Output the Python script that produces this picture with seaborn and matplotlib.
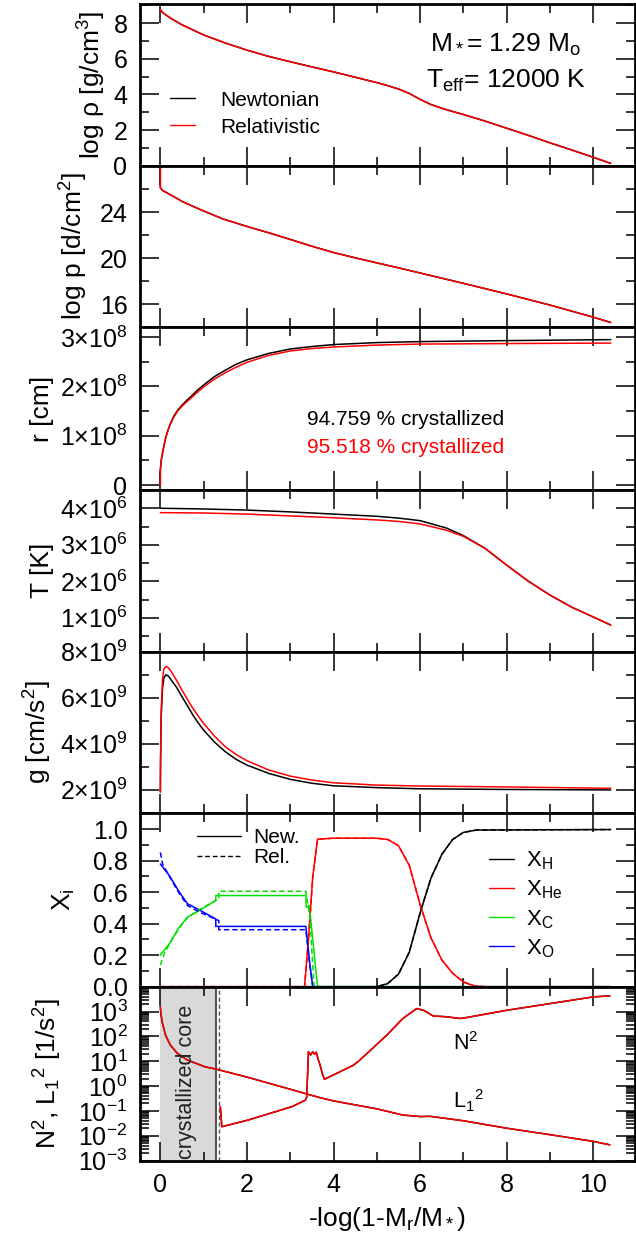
import numpy as np
import matplotlib
matplotlib.use("Agg")
import matplotlib.pyplot as plt
import seaborn as sns
from matplotlib.lines import Line2D
from matplotlib.ticker import (MultipleLocator, FixedLocator, FuncFormatter,
                               LogLocator, NullFormatter)

# ---------------- data ----------------
# panel 1: log density
x_rho = [0, 0.05, 0.1, 0.25, 0.5, 1, 1.5, 2, 2.5, 3, 3.5, 4, 4.5, 5, 5.25, 5.5,
         5.75, 6, 6.25, 6.5, 6.75, 7, 7.5, 8, 8.5, 9, 9.5, 10, 10.4]
logrho_new = [8.75, 8.6, 8.5, 8.25, 7.9, 7.33, 6.88, 6.48, 6.13, 5.83, 5.54,
              5.26, 4.96, 4.66, 4.49, 4.3, 4.05, 3.72, 3.43, 3.22, 3.04, 2.87,
              2.5, 2.1, 1.7, 1.28, 0.88, 0.47, 0.13]
logrho_rel = list(logrho_new)

# panel 2: log pressure
x_p = [0, 0, 0.05, 0.21, 0.52, 0.98, 1.44, 2.0, 2.5, 3.0, 3.5, 4.0, 4.5, 5.0,
       5.5, 6, 7, 8, 9, 10, 10.4]
logp_new = [29.0, 26.14, 25.9, 25.57, 24.91, 24.14, 23.43, 22.77, 22.22, 21.64,
            21.05, 20.5, 20.04, 19.6, 19.17, 18.72, 17.82, 16.9, 15.93, 14.88,
            14.42]
logp_rel = list(logp_new)

# panel 3: radius [cm]
x_r = [0, 0, 0.02, 0.05, 0.08, 0.12, 0.17, 0.22, 0.3, 0.4, 0.5, 0.6, 0.7, 0.85,
       1.0, 1.25, 1.5, 1.75, 2, 2.5, 3, 3.5, 4, 5, 6, 8, 10.4]
r_new = [0, 0.30e8, 0.5e8, 0.65e8, 0.78e8, 0.95e8, 1.1e8, 1.22e8, 1.38e8,
         1.52e8, 1.62e8, 1.71e8, 1.79e8, 1.92e8, 2.03e8, 2.2e8, 2.33e8, 2.45e8,
         2.54e8, 2.67e8, 2.76e8, 2.81e8, 2.85e8, 2.89e8, 2.91e8, 2.93e8, 2.95e8]
r_rel = [0, 0.30e8, 0.5e8, 0.65e8, 0.78e8, 0.94e8, 1.09e8, 1.21e8, 1.36e8,
         1.5e8, 1.6e8, 1.68e8, 1.76e8, 1.88e8, 1.99e8, 2.15e8, 2.28e8, 2.39e8,
         2.49e8, 2.63e8, 2.72e8, 2.77e8, 2.80e8, 2.84e8, 2.86e8, 2.87e8, 2.88e8]

# panel 4: temperature [K]
x_T = [0, 1, 2, 3, 4, 5, 5.5, 6, 6.6, 7.0, 7.5, 8.0, 8.5, 9.0, 9.5, 10.0, 10.4]
T_new = [4.0e6, 3.98e6, 3.95e6, 3.9e6, 3.84e6, 3.78e6, 3.73e6, 3.66e6, 3.46e6,
         3.25e6, 2.9e6, 2.44e6, 2.0e6, 1.62e6, 1.29e6, 1.02e6, 0.8e6]
T_rel = [3.88e6, 3.87e6, 3.84e6, 3.79e6, 3.74e6, 3.68e6, 3.64e6, 3.57e6, 3.4e6,
         3.23e6, 2.9e6, 2.44e6, 2.0e6, 1.62e6, 1.29e6, 1.02e6, 0.8e6]

# panel 5: gravity [cm/s^2]
x_g = [0, 0.005, 0.02, 0.05, 0.08, 0.13, 0.19, 0.25, 0.375, 0.5, 0.625, 0.75,
       0.875, 1, 1.25, 1.5, 1.75, 2, 2.5, 3, 3.5, 4, 5, 6, 8, 10.4]
g_new = [1.9e9, 3.2e9, 5.2e9, 6.4e9, 6.85e9, 7.0e9, 6.93e9, 6.77e9, 6.45e9,
         6.04e9, 5.65e9, 5.25e9, 4.9e9, 4.59e9, 4.07e9, 3.65e9, 3.32e9, 3.07e9,
         2.71e9, 2.45e9, 2.28e9, 2.17e9, 2.09e9, 2.04e9, 2.01e9, 1.99e9]
g_rel = [1.9e9, 3.3e9, 5.5e9, 6.8e9, 7.25e9, 7.36e9, 7.29e9, 7.14e9, 6.75e9,
         6.33e9, 5.93e9, 5.54e9, 5.2e9, 4.88e9, 4.33e9, 3.87e9, 3.53e9, 3.26e9,
         2.86e9, 2.59e9, 2.42e9, 2.3e9, 2.2e9, 2.16e9, 2.12e9, 2.06e9]

# panel 6: chemical abundances
x_O_new = [0, 0.21, 0.44, 0.63, 0.9, 1.28, 1.28, 3.36, 3.45, 3.52, 10.4]
XO_new = [0.779, 0.705, 0.60, 0.526, 0.488, 0.43, 0.383, 0.383, 0.15, 0.0, 0.0]
x_O_rel = [0, 0.05, 0.21, 0.44, 0.63, 0.9, 1.35, 1.35, 3.36, 3.45, 3.52, 10.4]
XO_rel = [0.853, 0.78, 0.70, 0.59, 0.515, 0.474, 0.42, 0.362, 0.362, 0.14, 0.0, 0.0]
x_C_new = [0, 0.21, 0.44, 0.63, 0.9, 1.28, 1.28, 3.36, 3.37, 3.44, 3.52, 3.63, 10.4]
XC_new = [0.2, 0.274, 0.379, 0.442, 0.484, 0.547, 0.579, 0.579, 0.505, 0.516,
          0.3, 0.0, 0.0]
x_C_rel = [0, 0.09, 0.21, 0.44, 0.63, 0.9, 1.35, 1.35, 3.36, 3.45, 3.55, 10.4]
XC_rel = [0.137, 0.21, 0.27, 0.375, 0.44, 0.49, 0.558, 0.606, 0.606, 0.45, 0.0, 0.0]
x_He = [0, 3.33, 3.42, 3.52, 3.63, 4.0, 5.0, 5.25, 5.5, 5.75, 6.0, 6.25, 6.5,
        6.75, 7.0, 7.25, 7.5, 10.4]
XHe_new = [0, 0, 0.3, 0.7, 0.937, 0.943, 0.943, 0.935, 0.895, 0.77, 0.52, 0.31,
           0.17, 0.085, 0.03, 0.005, 0.0, 0.0]
XHe_rel = list(XHe_new)
x_H = [0, 5.0, 5.25, 5.5, 5.75, 6.0, 6.25, 6.5, 6.75, 7.0, 7.3, 10.4]
XH_new = [0, 0, 0.02, 0.08, 0.22, 0.47, 0.69, 0.84, 0.935, 0.98, 0.995, 0.998]
XH_rel = list(XH_new)

# panel 7: squared Brunt-Vaisala and Lamb frequencies (log10 values)
x_L = [0, 0.01, 0.04, 0.12, 0.23, 0.39, 0.62, 1.02, 1.31, 2.02, 3.04, 3.38,
       3.69, 4.0, 5.0, 5.6, 6.0, 6.23, 7.0, 8, 9, 10, 10.38]
logL_new = [3.19, 2.95, 2.59, 2.05, 1.65, 1.32, 1.05, 0.78, 0.67, 0.35, -0.15,
            -0.32, -0.47, -0.6, -0.92, -1.17, -1.23, -1.22, -1.40, -1.70, -1.96,
            -2.23, -2.37]
logL_rel = list(logL_new)
x_N = [1.385, 1.42, 2.03, 3.04, 3.35, 3.38, 3.42, 3.47, 3.52, 3.56, 3.6, 3.64,
       3.69, 3.74, 3.79, 4.46, 4.61, 5.23, 5.6, 5.92, 6.08, 6.3, 6.6, 6.92,
       7.08, 8, 9, 10, 10.38]
logN_new = [-0.83, -1.64, -1.37, -0.83, -0.57, -0.45, 1.38, 1.25, 1.38, 1.28,
            1.36, 1.1, 0.84, 0.5, 0.27, 0.84, 1.05, 2.05, 2.72, 3.12, 3.05,
            2.82, 2.79, 2.72, 2.76, 3.05, 3.32, 3.59, 3.63]
logN_rel = list(logN_new)

cryst_pct = [94.759, 95.518]          # Newtonian, Relativistic
mass_label = "M$_*$= 1.29 M$_o$"
teff_label = "T$_{eff}$= 12000 K"

# ---------------- style ----------------
sns.set_theme(style="ticks")
plt.rcParams.update({
    "font.family": ["Liberation Sans", "DejaVu Sans"],
    "mathtext.fontset": "custom",
    "mathtext.rm": "Liberation Sans",
    "mathtext.it": "Liberation Sans:italic",
    "mathtext.bf": "Liberation Sans:bold",
    "mathtext.default": "regular",
    "axes.linewidth": 2.0,
    "axes.edgecolor": "black",
    "xtick.color": "black", "ytick.color": "black",
    "axes.labelcolor": "black", "text.color": "black",
})

W, H = 636, 1239
fig = plt.figure(figsize=(W / 100, H / 100), dpi=100)
left_px, right_px = 140, 634.5
edges = [4.3, 165.7, 327.3, 490, 651.7, 812.7, 986.7, 1160.5]
axes = []
for i in range(7):
    top, bot = edges[i], edges[i + 1]
    axes.append(fig.add_axes([left_px / W, 1 - bot / H, (right_px - left_px) / W,
                              (bot - top) / H]))

BLK, RED, GRN, BLU = "#000000", "#ff0000", "#00e000", "#0000ff"
LW = 1.1


def line(ax, x, y, color, ls="-", lw=LW):
    sns.lineplot(x=x, y=y, ax=ax, color=color, linestyle=ls, linewidth=lw,
                 estimator=None, sort=False, legend=False)


def sci(exp):
    def f(v, pos):
        if abs(v) < 1e-6 * 10 ** exp:
            return "0"
        return f"{v / 10 ** exp:.0f}×10$^{{{exp}}}$"
    return FuncFormatter(f)


for ax in axes:
    ax.set_xlim(-0.47, 10.95)
    ax.xaxis.set_major_locator(MultipleLocator(2))
    ax.xaxis.set_minor_locator(MultipleLocator(1))
    ax.tick_params(which="both", direction="in", top=True, right=True,
                   width=1.1, labelsize=18, colors="black")
    ax.tick_params(which="major", length=14)
    ax.tick_params(which="minor", length=6.5)
    ax.tick_params(axis="y", pad=9)
    ax.tick_params(axis="x", pad=9)
    if ax is not axes[-1]:
        ax.tick_params(axis="x", labelbottom=False)
    for s in ax.spines.values():
        s.set_linewidth(2.0)

ylab_fs = 19

# panel 1
ax = axes[0]
line(ax, x_rho, logrho_new, BLK)
line(ax, x_rho, logrho_rel, RED)
ax.set_ylim(0, 9.05)
ax.yaxis.set_major_locator(MultipleLocator(2))
ax.yaxis.set_minor_locator(MultipleLocator(1))
ax.set_ylabel("log ρ [g/cm$^3$]", fontsize=ylab_fs, labelpad=4)
ax.text(0.74, 0.704, mass_label, transform=ax.transAxes, ha="center",
        va="baseline", fontsize=19)
ax.text(0.74, 0.481, teff_label, transform=ax.transAxes, ha="center",
        va="baseline", fontsize=19)
ax.legend([Line2D([], [], color=BLK, lw=1), Line2D([], [], color=RED, lw=1)],
          ["Newtonian", "Relativistic"], loc="center left",
          bbox_to_anchor=(0.061, 0.323), frameon=False, fontsize=15,
          handlelength=1.2, handletextpad=1.2, labelspacing=0.38,
          borderpad=0, borderaxespad=0)

# panel 2
ax = axes[1]
line(ax, x_p, logp_new, BLK)
line(ax, x_p, logp_rel, RED)
ax.set_ylim(14, 28.05)
ax.yaxis.set_major_locator(FixedLocator([16, 20, 24]))
ax.yaxis.set_minor_locator(FixedLocator([14, 18, 22, 26]))
ax.set_ylabel("log p [d/cm$^2$]", fontsize=ylab_fs, labelpad=7)

# panel 3
ax = axes[2]
line(ax, x_r, r_new, BLK)
line(ax, x_r, r_rel, RED)
ax.set_ylim(-0.1e8, 3.2e8)
ax.yaxis.set_major_locator(MultipleLocator(1e8))
ax.yaxis.set_minor_locator(MultipleLocator(0.5e8))
ax.yaxis.set_major_formatter(sci(8))
ax.set_ylabel("r [cm]", fontsize=ylab_fs, labelpad=4)
ax.text(0.338, 0.3995, f"{cryst_pct[0]:.3f} % crystallized", color=BLK,
        transform=ax.transAxes, ha="left", va="baseline", fontsize=15)
ax.text(0.338, 0.229, f"{cryst_pct[1]:.3f} % crystallized", color=RED,
        transform=ax.transAxes, ha="left", va="baseline", fontsize=15)

# panel 4
ax = axes[3]
line(ax, x_T, T_new, BLK)
line(ax, x_T, T_rel, RED)
ax.set_ylim(0.07e6, 4.5e6)
ax.yaxis.set_major_locator(MultipleLocator(1e6))
ax.yaxis.set_minor_locator(MultipleLocator(0.5e6))
ax.yaxis.set_major_formatter(sci(6))
ax.set_ylabel("T [K]", fontsize=ylab_fs, labelpad=4)

# panel 5
ax = axes[4]
line(ax, x_g, g_new, BLK)
line(ax, x_g, g_rel, RED)
ax.set_ylim(1e9, 8e9)
ax.yaxis.set_major_locator(FixedLocator([2e9, 4e9, 6e9, 8e9]))
ax.yaxis.set_minor_locator(FixedLocator([1e9, 3e9, 5e9, 7e9]))
ax.yaxis.set_major_formatter(sci(9))
ax.set_ylabel("g [cm/s$^2$]", fontsize=ylab_fs, labelpad=4)

# panel 6
ax = axes[5]
DASH = (0, (3.5, 2))
line(ax, x_H, XH_new, BLK)
line(ax, x_He, XHe_new, RED)
line(ax, x_C_new, XC_new, GRN)
line(ax, x_O_new, XO_new, BLU)
line(ax, x_H, XH_rel, BLK, DASH)
line(ax, x_He, XHe_rel, RED, DASH)
line(ax, x_C_rel, XC_rel, GRN, DASH)
line(ax, x_O_rel, XO_rel, BLU, DASH)
ax.set_ylim(0, 1.105)
ax.yaxis.set_major_locator(MultipleLocator(0.2))
ax.yaxis.set_minor_locator(MultipleLocator(0.1))
ax.yaxis.set_major_formatter(FuncFormatter(lambda v, p: f"{v:.1f}"))
ax.set_ylabel("X$_i$", fontsize=ylab_fs, labelpad=11)
leg1 = ax.legend([Line2D([], [], color=BLK, lw=1),
                  Line2D([], [], color=BLK, lw=1, ls=DASH)],
                 ["New.", "Rel."], loc="center left",
                 bbox_to_anchor=(0.115, 0.80), frameon=False, fontsize=15,
                 handlelength=2.1, handletextpad=0.6, labelspacing=0.05,
                 borderpad=0, borderaxespad=0)
ax.add_artist(leg1)
ax.legend([Line2D([], [], color=c, lw=1) for c in (BLK, RED, GRN, BLU)],
          ["X$_H$", "X$_{He}$", "X$_C$", "X$_O$"], loc="center left",
          bbox_to_anchor=(0.706, 0.472), frameon=False, fontsize=16,
          handlelength=1.1, handletextpad=0.55, labelspacing=0.3,
          borderpad=0, borderaxespad=0)

# panel 7
ax = axes[6]
ax.set_yscale("log")
x_cryst = [-np.log10(1 - p / 100) for p in cryst_pct]
ax.axvspan(0, x_cryst[0], color="#d9d9d9", lw=0, zorder=0)
ax.axvline(x_cryst[0], color="#555555", lw=1.5, zorder=1)
ax.axvline(x_cryst[1], color="#555555", lw=1.0, ls=(0, (3, 2)), zorder=1)
line(ax, x_L, [10 ** v for v in logL_new], BLK)
line(ax, x_L, [10 ** v for v in logL_rel], RED)
line(ax, x_N, [10 ** v for v in logN_new], BLK)
line(ax, x_N, [10 ** v for v in logN_rel], RED)
ax.set_ylim(1e-3, 1e4)
ax.yaxis.set_major_locator(FixedLocator([10.0 ** k for k in range(-3, 5)]))
ax.yaxis.set_minor_locator(LogLocator(base=10, subs=np.arange(2, 10), numticks=100))
ax.yaxis.set_minor_formatter(NullFormatter())
ax.yaxis.set_major_formatter(FuncFormatter(
    lambda v, p: "" if v > 5e3 else f"10$^{{{int(round(np.log10(v)))}}}$"))
ax.set_ylabel("N$^2$, L$_1$$^2$ [1/s$^2$]", fontsize=ylab_fs, labelpad=10)
ax.text(0.61, 10 ** 0.16, "crystallized core", rotation=90, ha="center",
        va="center", fontsize=15.5, color="#222222")
ax.text(6.75, 10 ** 1.45, "N$^2$", ha="left", va="baseline", fontsize=15.5)
ax.text(6.76, 10 ** -0.9, "L$_1$$^2$", ha="left", va="baseline", fontsize=15.5)
ax.set_xlabel("-log(1-M$_r$/M$_*$)", fontsize=19, labelpad=6)

fig.savefig("out.png", dpi=100)
